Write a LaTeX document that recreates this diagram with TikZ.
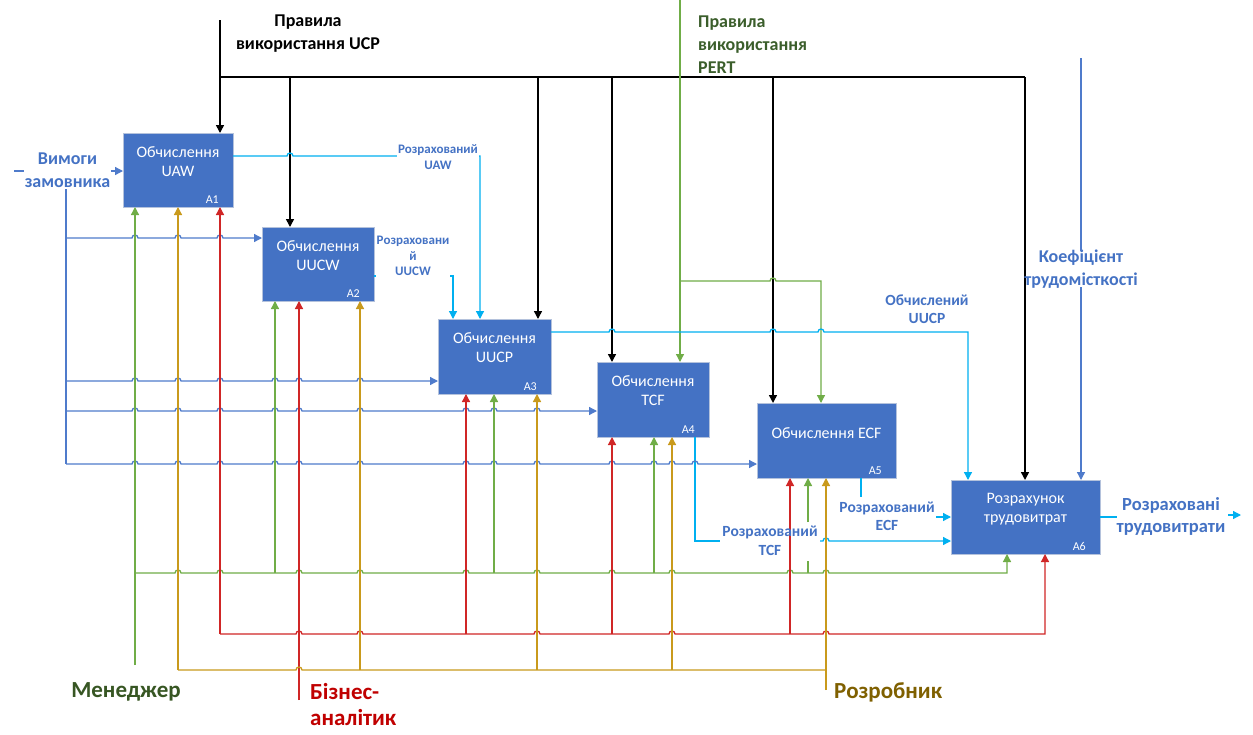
\documentclass[tikz,border=0pt]{standalone}
\usepackage{fontspec}
\setmainfont{Carlito}
\usetikzlibrary{arrows.meta}

\definecolor{boxblue}{HTML}{4472C4}
\definecolor{boxedge}{HTML}{B4C2DC}
\definecolor{lblblue}{HTML}{4472C4}
\definecolor{lnblue}{HTML}{4F7BCB}
\definecolor{cyanln}{HTML}{00B0F0}
\definecolor{grnln}{HTML}{70AD47}
\definecolor{redln}{HTML}{D02626}
\definecolor{yelln}{HTML}{C99A1C}
\definecolor{pertgrn}{HTML}{3B5E2B}
\definecolor{mgrtext}{HTML}{375623}
\definecolor{bantext}{HTML}{C00000}
\definecolor{devtext}{HTML}{7F6000}

\tikzset{
  wire/.style={line width=1.3pt},
  feed/.style={wire,-{Triangle[length=8pt,width=8pt]}},
  feedk/.style={feed,black,line width=1.5pt},
  feedb/.style={feed,lnblue},
  feedc/.style={feed,cyanln},
  feedg/.style={feed,grnln},
  feedr/.style={feed,redln},
  feedy/.style={feed,yelln},
  procbox/.style={draw=boxedge,line width=1pt,fill=boxblue,inner sep=0pt,outer sep=0pt},
  proctext/.style={text=white,font=\fontsize{16}{19}\selectfont,align=center,inner sep=0pt},
  proctag/.style={text=white,font=\fontsize{12}{14}\selectfont,inner sep=0pt,anchor=base east},
  smalllbl/.style={text=lblblue,font=\bfseries\fontsize{13}{16}\selectfont,align=center,inner sep=1pt},
  midlbl/.style={text=lblblue,font=\bfseries\fontsize{15.5}{18.5}\selectfont,align=center,inner sep=1pt},
  biglbl/.style={text=lblblue,font=\bfseries\fontsize{18}{23}\selectfont,align=center,inner sep=1pt},
  outlbl/.style={text=lblblue,font=\bfseries\fontsize{18.5}{22}\selectfont,align=center,inner sep=1pt},
  actor/.style={font=\bfseries\fontsize{23}{26}\selectfont,inner sep=0pt},
}
% a row of small bridges over crossing wires on a horizontal line at height #1
\newcommand\hopsat[2]{foreach \hx in {#2}{ -- ({\hx-3},#1) arc[start angle=180,end angle=0,radius=3pt] }}

\begin{document}
\begin{tikzpicture}[x=1pt,y=-1pt]
\useasboundingbox (0,0) rectangle (1253,734);
\fill[white] (0,0) rectangle (1253,734);

% activity boxes
\node[procbox,minimum width=110pt,minimum height=74pt] (A1) at (178,170) {};
\node[procbox,minimum width=112pt,minimum height=74pt] (A2) at (318,264) {};
\node[procbox,minimum width=113pt,minimum height=75pt] (A3) at (494.5,356.5) {};
\node[procbox,minimum width=112pt,minimum height=75pt] (A4) at (653,399.5) {};
\node[procbox,minimum width=139pt,minimum height=75pt] (A5) at (826.5,440.5) {};
\node[procbox,minimum width=149pt,minimum height=74pt] (A6) at (1025.5,517) {};

\node[proctext] (A1t) at ([yshift=-29pt]A1.north) {Обчислення\\UAW};
\node[proctext] (A2t) at ([yshift=-29pt]A2.north) {Обчислення\\UUCW};
\node[proctext] (A3t) at ([yshift=-29pt]A3.north) {Обчислення\\UUCP};
\node[proctext] (A4t) at ([yshift=-29pt]A4.north) {Обчислення\\TCF};
\node[proctext] (A5t) at ([yshift=-30pt]A5.north) {Обчислення ECF};
\node[proctext] (A6t) at ([yshift=-29pt]A6.north) {Розрахунок\\трудовитрат};

\node[proctag] (A1n) at ([xshift=-14pt,yshift=4pt]A1.south east) {A1};
\node[proctag] (A2n) at ([xshift=-14pt,yshift=4pt]A2.south east) {A2};
\node[proctag] (A3n) at ([xshift=-14pt,yshift=4pt]A3.south east) {A3};
\node[proctag] (A4n) at ([xshift=-14pt,yshift=4pt]A4.south east) {A4};
\node[proctag] (A5n) at ([xshift=-14pt,yshift=4pt]A5.south east) {A5};
\node[proctag] (A6n) at ([xshift=-14pt,yshift=4pt]A6.south east) {A6};

% UCP rules (black controls)
\coordinate (ucpin) at (220,20);
\coordinate (ucpj) at (220,77);
\coordinate (ucpe) at (1025,77);
\draw[wire,black,line width=1.5pt] (ucpj) -- (ucpe);
\draw[feedk] (ucpin) -- (A1.north -| ucpin);
\draw[feedk] (290,77) -- (A2.north -| 290,0);
\draw[feedk] (538,77) -- (A3.north -| 538,0);
\draw[feedk] (612,77) -- (A4.north -| 612,0);
\draw[feedk] (773,77) -- (A5.north -| 773,0);
\draw[feedk] (ucpe) -- (A6.north -| ucpe);

% PERT rules (green controls)
\coordinate (pertin) at (680,0);
\draw[feedg] (pertin) -- (A4.north -| pertin);
\draw[feedg] (680,281) \hopsat{281}{773} -- (821,281) -- (A5.north -| 821,0);

% intermediate results (cyan)
\draw[feedc] (A1.east |- 0,156) \hopsat{156}{290} -- (480,156) -- (A3.north -| 480,0);
\draw[feedc] (A2.east |- 0,276) -- (453,276) -- (A3.north -| 453,0);
\draw[feedc] (A3.east |- 0,332) \hopsat{332}{612,773,821} -- (968,332) -- (A6.north -| 968,0);
\draw[wire,cyanln] (A4.south -| 695,0) -- (695,541) -- (720,541);
\draw[feedc] (820,541) \hopsat{541}{826} -- (A6.west |- 0,541);
\draw[wire,cyanln] (A5.south -| 861,0) -- (861,497);
\draw[feedc] (936,517) -- (A6.west |- 0,517);
\coordinate (outs) at (1117,517);
\coordinate (outa) at (1228,515);
\coordinate (oute) at (1241,515);
\draw[wire,cyanln] (A6.east |- outs) -- (outs);
\draw[feedc] (outa) -- (oute);

% customer requirements (blue inputs)
\coordinate (reqin) at (14,171);
\draw[feedb] (reqin) -- (A1.west |- reqin);
\draw[wire,lnblue] (66,171) -- (66,464);
\draw[feedb] (66,238) \hopsat{238}{135,178,220} -- (A2.west |- 0,238);
\draw[feedb] (66,381) \hopsat{381}{135,178,220,275,299,360} -- (A3.west |- 0,381);
\draw[feedb] (66,411) \hopsat{411}{135,178,220,275,299,360,466,494,537} -- (A4.west |- 0,411);
\draw[feedb] (66,464) \hopsat{464}{135,178,220,275,299,360,466,494,537,612,654,672,695} -- (A5.west |- 0,464);

% manager (green mechanisms)
\coordinate (mgr) at (135,665);
\draw[feedg] (mgr) -- (A1.south -| mgr);
\draw[feedg] (135,573) \hopsat{573}{178,220,299,360,466,537,612,672,790,826} -- (1007,573) -- (A6.south -| 1007,0);
\draw[feedg] (275,573) -- (A2.south -| 275,0);
\draw[feedg] (494,573) -- (A3.south -| 494,0);
\draw[feedg] (654,573) -- (A4.south -| 654,0);
\draw[wire,grnln] (808,573) -- (808,561);
\draw[feedg] (808,522) -- (A5.south -| 808,0);

% business analyst (red mechanisms)
\coordinate (ban) at (299,700);
\draw[feedr] (ban) -- (A2.south -| ban);
\draw[feedr] (220,634) -- (A1.south -| 220,0);
\draw[feedr] (220,634) \hopsat{634}{299,360,537,672,826} -- (1045,634) -- (A6.south -| 1045,0);
\draw[feedr] (466,634) -- (A3.south -| 466,0);
\draw[feedr] (612,634) -- (A4.south -| 612,0);
\draw[feedr] (790,634) -- (A5.south -| 790,0);

% developer (yellow mechanisms)
\coordinate (dev) at (826,690);
\draw[feedy] (dev) -- (A5.south -| dev);
\draw[feedy] (178,670) -- (A1.south -| 178,0);
\draw[wire,yelln] (178,670) \hopsat{670}{299} -- (826,670);
\draw[feedy] (360,670) -- (A2.south -| 360,0);
\draw[feedy] (537,670) -- (A3.south -| 537,0);
\draw[feedy] (672,670) -- (A4.south -| 672,0);

% labels
\node[biglbl,text=black] (ucpl) at (308,33.5) {Правила\\використання UCP};
\node[biglbl,text=pertgrn,align=left,anchor=west] (pertl) at (697,44.5) {Правила\\використання\\PERT};
\node[biglbl,fill=white] (reql) at (67.5,170.5) {Вимоги\\замовника};
\node[smalllbl,fill=white] (uawl) at (438,157) {Розрахований\\UAW};
\node[smalllbl,fill=white,font=\bfseries\fontsize{13}{15.5}\selectfont] (uucwl) at (413,256) {Розраховани\\й\\UUCW};
\node[midlbl] (uucpl) at (927,309) {Обчислений\\UUCP};
\node[midlbl] (tcfl) at (770,541) {Розрахований\\TCF};
\node[midlbl] (ecfl) at (887,516.5) {Розрахований\\ECF};
\node[biglbl] (kl) at (1081,269) {Коефіцієнт\\трудомісткості};
\node[outlbl] (outl) at (1171,516) {Розраховані\\трудовитрати};
\node[actor,text=mgrtext] (mgrl) at (126,692) {Менеджер};
\node[actor,text=bantext,align=left,anchor=west] (banl) at (310,705) {Бізнес-\\аналітик};
\node[actor,text=devtext,anchor=west] (devl) at (834,692) {Розробник};

% labour-intensity coefficient (blue control), broken by its label
\coordinate (kin) at (1081,58);
\draw[wire,lnblue] (kin) -- ([yshift=-2pt]kl.north -| kin);
\draw[feedb] ([yshift=2pt]kl.south -| kin) -- (A6.north -| kin);
\end{tikzpicture}
\end{document}
